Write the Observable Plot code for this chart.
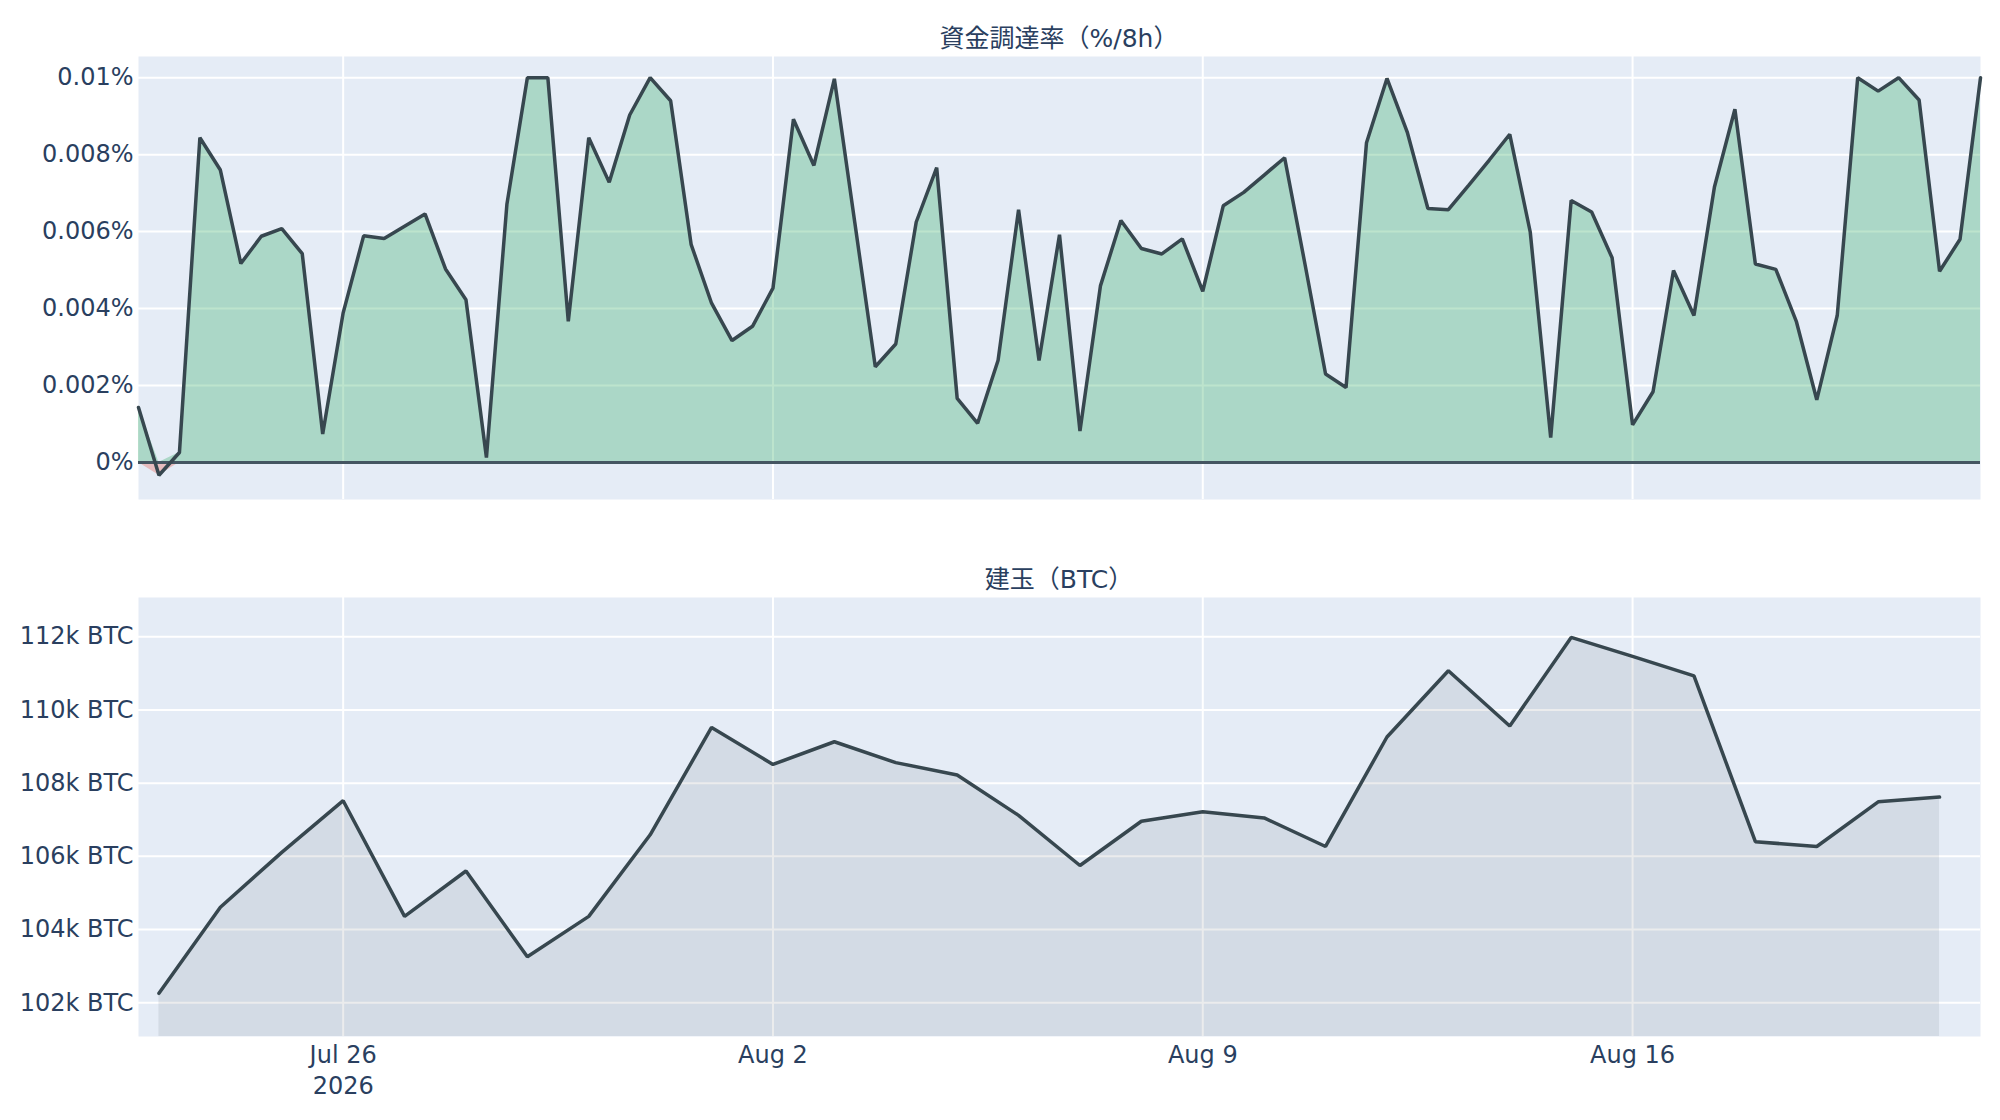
<!DOCTYPE html>
<html><head><meta charset="utf-8">
<script src="https://cdn.jsdelivr.net/npm/d3@7"></script>
<script src="https://cdn.jsdelivr.net/npm/@observablehq/plot@0.6"></script>
<style>
body{margin:0;background:#fff;}
#wrap{position:relative;width:2000px;height:1120px;color:#2a3f5f;font-family:"DejaVu Sans","Noto Sans CJK JP",sans-serif;}
#top,#bot{position:absolute;left:0;}
.title{position:absolute;left:138px;width:1842px;text-align:center;font-size:25px;line-height:1;white-space:nowrap;}
</style></head>
<body><div id="wrap">
<div id="top" style="top:0"></div>
<div id="bot" style="top:520px"></div>
<div class="title" style="top:26px">資金調達率（%/8h）</div>
<div class="title" style="top:567px">建玉（BTC）</div>
</div>
<script>
// Funding rate (% per 8h), every 8 hours from 2026-07-22 16:00 UTC
const fundingStart = Date.UTC(2026, 6, 22, 16);
const fundingRate = [
  0.00143, -0.00033, 0.00026, 0.00844, 0.00760, 0.00517, 0.00588, 0.00608, 0.00543, 0.00074,
  0.00389, 0.00589, 0.00582, 0.00614, 0.00646, 0.00503, 0.00423, 0.00013, 0.00671, 0.01000,
  0.01000, 0.00367, 0.00844, 0.00728, 0.00903, 0.01000, 0.00940, 0.00567, 0.00414, 0.00317,
  0.00354, 0.00453, 0.00892, 0.00772, 0.00997, 0.00623, 0.00249, 0.00308, 0.00625, 0.00766,
  0.00167, 0.00102, 0.00266, 0.00657, 0.00265, 0.00592, 0.00082, 0.00459, 0.00629, 0.00556,
  0.00542, 0.00581, 0.00445, 0.00667, 0.00702, 0.00747, 0.00792, 0.00514, 0.00230, 0.00195,
  0.00831, 0.00998, 0.00857, 0.00660, 0.00657, 0.00721, 0.00786, 0.00853, 0.00599, 0.00065,
  0.00681, 0.00651, 0.00532, 0.00098, 0.00184, 0.00499, 0.00382, 0.00716, 0.00918, 0.00516,
  0.00502, 0.00367, 0.00163, 0.00382, 0.01000, 0.00965, 0.01000, 0.00942, 0.00497, 0.00580,
  0.01000
];
// Open interest (BTC), daily from 2026-07-23 00:00 UTC
const oiStart = Date.UTC(2026, 6, 23);
const openInterest = [
  102260, 104610, 106110, 107520, 104360, 105600, 103260, 104360, 106590, 109520,
  108510, 109130, 108560, 108220, 107120, 105750, 106960, 107220, 107050, 106270,
  109260, 111070, 109560, 111980, 111460, 110930, 106400, 106270, 107490, 107620
];
// Axis ticks
const weekTicks = [Date.UTC(2026,6,26), Date.UTC(2026,7,2), Date.UTC(2026,7,9), Date.UTC(2026,7,16)].map(t => new Date(t));
const weekLabels = ["Jul 26\n2026", "Aug 2", "Aug 9", "Aug 16"];
const frTicks = [0, 0.002, 0.004, 0.006, 0.008, 0.01];
const oiTicks = [102000, 104000, 106000, 108000, 110000, 112000];

const H8 = 8 * 3600 * 1000, DAY = 24 * 3600 * 1000;
const fr = fundingRate.map((v, i) => ({t: new Date(fundingStart + i * H8), v}));
const oi = openInterest.map((v, i) => ({t: new Date(oiStart + i * DAY), v}));
const xDomain = [new Date(Date.UTC(2026, 6, 22, 16)), new Date(Date.UTC(2026, 7, 21, 16))];

const LINE = "#37474f";
const BG = "#e5ecf6";
const style = {fontSize: "24px", fontFamily: '"DejaVu Sans", sans-serif', color: "#2a3f5f", background: "transparent", overflow: "visible"};

const frFmt = d => d === 0 ? "0%" : `${+d.toFixed(3)}%`;
const oiFmt = d => `${d / 1000}k BTC`;
const weekFmt = d => weekLabels[weekTicks.findIndex(t => +t === +d)];

const topChart = Plot.plot({
  width: 2000, height: 520,
  marginTop: 56, marginBottom: 21, marginLeft: 138, marginRight: 20,
  style,
  x: {type: "utc", domain: xDomain, axis: null},
  y: {domain: [-0.00096, 0.01055], axis: null},
  marks: [
    Plot.frame({fill: BG}),
    Plot.gridY(frTicks, {stroke: "white", strokeOpacity: 1, strokeWidth: 2}),
    Plot.gridX(weekTicks, {stroke: "white", strokeOpacity: 1, strokeWidth: 2}),
    Plot.areaY(fr, {x: "t", y: d => Math.max(d.v, 0), fill: "rgb(38,166,91)", fillOpacity: 0.3}),
    Plot.areaY(fr, {x: "t", y: d => Math.min(d.v, 0), fill: "rgb(231,76,60)", fillOpacity: 0.3}),
    Plot.ruleY([0], {stroke: "#445561", strokeWidth: 3}),
    Plot.lineY(fr, {x: "t", y: "v", stroke: LINE, strokeWidth: 3.5, strokeLinejoin: "miter"}),
    Plot.axisY(frTicks, {tickFormat: frFmt, tickSize: 0, tickPadding: 5, label: null})
  ]
});
document.getElementById("top").appendChild(topChart);

const botChart = Plot.plot({
  width: 2000, height: 600,
  marginTop: 77, marginBottom: 84, marginLeft: 138, marginRight: 20,
  style,
  x: {type: "utc", domain: xDomain, axis: null},
  y: {domain: [101080, 113070], axis: null},
  marks: [
    Plot.frame({fill: BG}),
    Plot.gridY(oiTicks, {stroke: "white", strokeOpacity: 1, strokeWidth: 2}),
    Plot.gridX(weekTicks, {stroke: "white", strokeOpacity: 1, strokeWidth: 2}),
    Plot.areaY(oi, {x: "t", y1: 101080, y2: "v", fill: "rgb(55,71,79)", fillOpacity: 0.1}),
    Plot.lineY(oi, {x: "t", y: "v", stroke: LINE, strokeWidth: 3.5, strokeLinejoin: "miter"}),
    Plot.axisY(oiTicks, {tickFormat: oiFmt, tickSize: 0, tickPadding: 5, label: null}),
    Plot.axisX(weekTicks, {tickFormat: weekFmt, tickSize: 0, tickPadding: 4, lineHeight: 1.3, label: null})
  ]
});
document.getElementById("bot").appendChild(botChart);
</script>
</body></html>
